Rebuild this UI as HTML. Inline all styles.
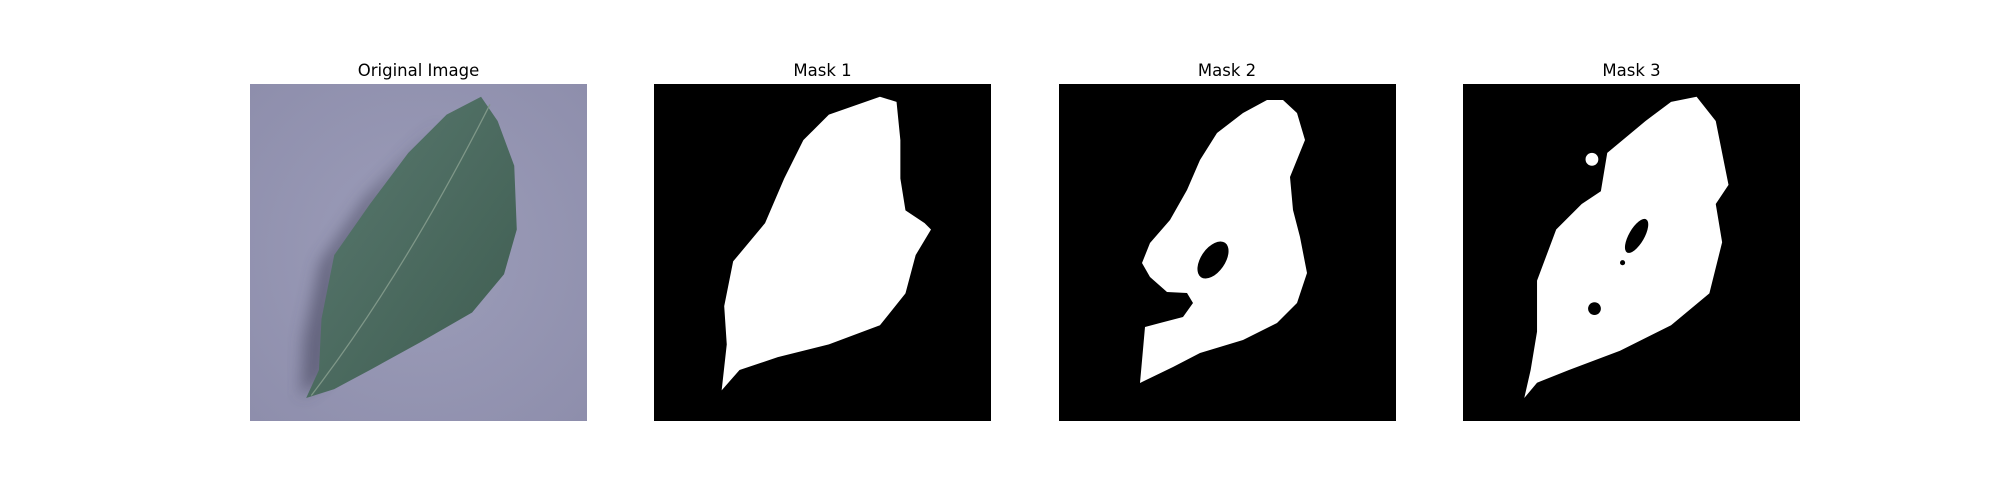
<!DOCTYPE html>
<html><head><meta charset="utf-8"><style>
html,body{margin:0;padding:0;background:#fff;}
svg{display:block;font-family:"DejaVu Sans","Liberation Sans",sans-serif;}
</style></head><body>
<svg width="2000" height="500" viewBox="0 0 2000 500">
<defs>
<radialGradient id="bg" cx="0.5" cy="0.5" r="0.8">
<stop offset="0" stop-color="#9c9db9"/><stop offset="1" stop-color="#8c8caa"/>
</radialGradient>
<linearGradient id="leafg" x1="0" y1="0" x2="1" y2="1">
<stop offset="0" stop-color="#5a7a70"/><stop offset="1" stop-color="#3e5c50"/>
</linearGradient>
<filter id="blur"><feGaussianBlur stdDeviation="6"/></filter>
</defs>

<text x="418.5" y="76" font-size="16.5" text-anchor="middle">Original Image</text>
<text x="822.5" y="76" font-size="16.5" text-anchor="middle">Mask 1</text>
<text x="1227" y="76" font-size="16.5" text-anchor="middle">Mask 2</text>
<text x="1631.5" y="76" font-size="16.5" text-anchor="middle">Mask 3</text>

<svg x="250" y="84" width="337" height="337" viewBox="0 0 264 264">
<rect width="264" height="264" fill="url(#bg)"/>
<path d="M150 30 L90 90 L55 140 L42 200 L40 245 L60 230 L70 140 L110 80 Z" fill="#3e3e55" opacity="0.55" filter="url(#blur)"/>
<path d="M181 10 L194 29 L207 64 L209 114 L199 149 L174 179 L134 202 L94 224 L66 239 L44 246 L54 224 L56 184 L66 134 L94 94 L124 54 L154 24 Z" fill="url(#leafg)"/>
<path d="M48 244 Q120 150 188 16" stroke="#7f9788" stroke-width="1" fill="none"/>
</svg>

<svg x="654" y="84" width="337" height="337" viewBox="0 0 264 264">
<rect width="264" height="264" fill="#000"/>
<path d="M177 10 L190 14 L193 44 L193 74 L197 99 L212 109 L217 114 L205 134 L197 164 L177 189 L137 204 L97 214 L67 224 L53 240 L57 204 L55 174 L62 139 L87 109 L102 74 L117 44 L137 24 Z" fill="#fff"/>
</svg>

<svg x="1059" y="84" width="337" height="337" viewBox="0 0 337 337">
<rect width="337" height="337" fill="#000"/>
<path d="M224 16 L238 29 L246 56 L231 93 L234 126 L241 153 L248 189 L238 219 L218 239 L184 256 L141 269 L114 283 L81 299 L86 243 L101 239 L124 233 L134 219 L128 209 L108 208 L91 193 L83 179 L91 159 L111 136 L128 106 L141 76 L158 49 L184 29 L208 16 Z" fill="#fff"/>
<ellipse cx="154" cy="176" rx="21" ry="12" transform="rotate(-55 154 176)" fill="#000"/>
</svg>

<svg x="1463" y="84" width="337" height="337" viewBox="0 0 264 264">
<rect width="264" height="264" fill="#000"/>
<path d="M183 10 L198 29 L205 64 L208 79 L198 94 L203 124 L193 164 L163 189 L123 209 L83 224 L58 234 L48 246 L53 224 L58 194 L58 154 L73 114 L93 94 L108 84 L113 54 L143 29 L163 14 Z" fill="#fff"/>
<ellipse cx="136" cy="119" rx="6" ry="15" transform="rotate(30 136 119)" fill="#000"/>
<circle cx="103" cy="176" r="5" fill="#000"/>
<circle cx="101" cy="59" r="5" fill="#fff"/>
<circle cx="125" cy="140" r="2" fill="#000"/>
</svg>
</svg>
</body></html>
